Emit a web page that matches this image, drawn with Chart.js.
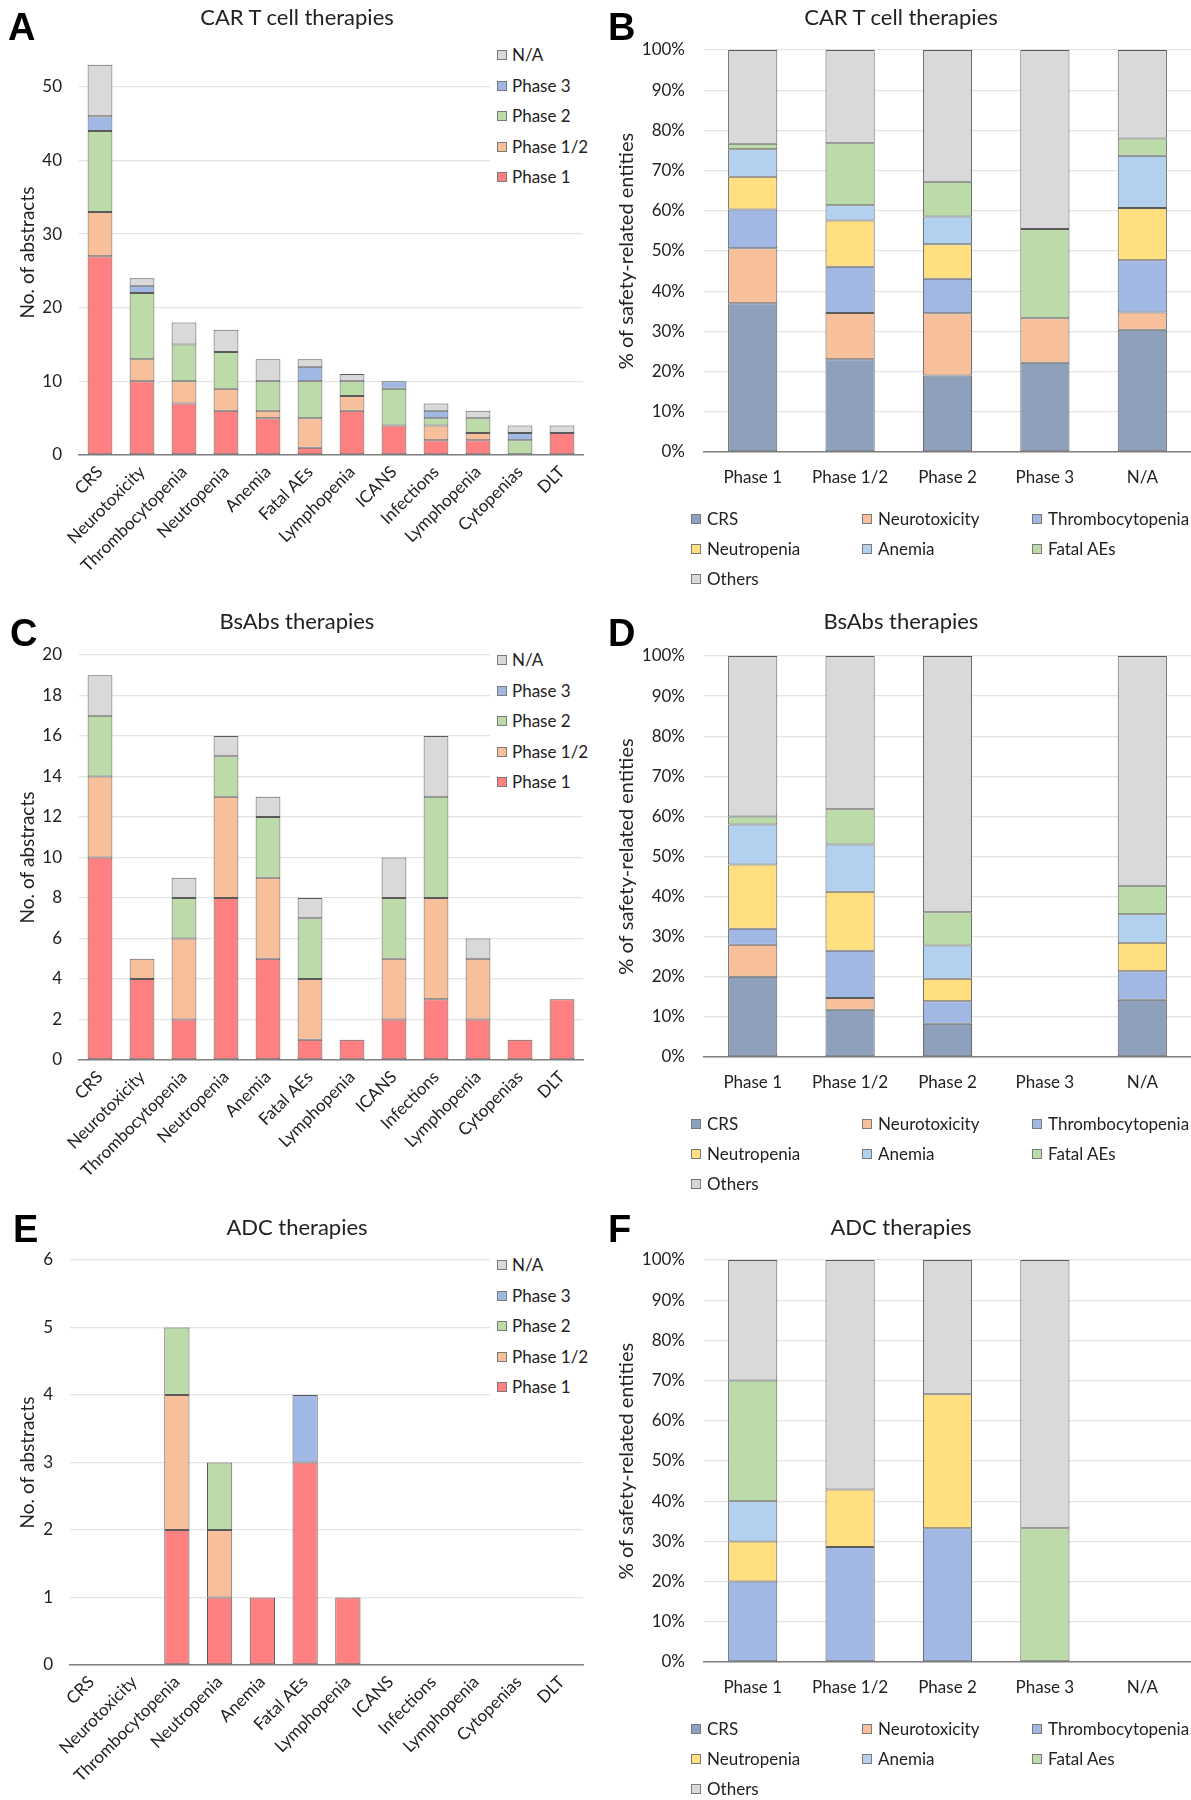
<!DOCTYPE html>
<html><head><meta charset="utf-8">
<script src="https://cdn.jsdelivr.net/npm/chart.js@4"></script>
<style>
html,body{margin:0;padding:0;background:#fff}
body{width:1191px;height:1800px;position:relative;overflow:hidden;font-family:Lato,"Open Sans",sans-serif;color:#222}
canvas{position:absolute}
.letter{position:absolute;font-family:"Liberation Sans",Arial,sans-serif;font-weight:bold;font-size:38px;line-height:38px;color:#000}
.ttl{position:absolute;font-size:22px;line-height:22px;white-space:nowrap;transform:translateX(-50%);color:#222}
.box{position:absolute;background:#fff}
.li{position:absolute;font-size:17px;line-height:17px;white-space:nowrap;color:#222}
.sw{position:absolute;width:8px;height:8px;border:1px solid #7a7a7a;box-sizing:content-box}
</style></head><body>
<script>
// ---------- DATA ----------
const categories = ["CRS","Neurotoxicity","Thrombocytopenia","Neutropenia","Anemia","Fatal AEs","Lymphopenia","ICANS","Infections","Lymphopenia","Cytopenias","DLT"];
const phaseNames = ["Phase 1","Phase 1/2","Phase 2","Phase 3","N/A"];

// A: CAR T cell therapies (No. of abstracts)
const carPhase1  = [27,10,7,6,5,1,6,4,2,2,0,3];
const carPhase12 = [6,3,3,3,1,4,2,0,2,1,0,0];
const carPhase2  = [11,9,5,5,4,5,2,5,1,2,2,0];
const carPhase3  = [2,1,0,0,0,2,0,1,1,0,1,0];
const carNA      = [7,1,3,3,3,1,1,0,1,1,1,1];

// C: BsAbs therapies
const bsPhase1  = [10,4,2,8,5,1,1,2,3,2,1,3];
const bsPhase12 = [4,1,4,5,4,3,0,3,5,3,0,0];
const bsPhase2  = [3,0,2,2,3,3,0,3,5,0,0,0];
const bsPhase3  = [0,0,0,0,0,0,0,0,0,0,0,0];
const bsNA      = [2,0,1,1,1,1,0,2,3,1,0,0];

// E: ADC therapies
const adcPhase1  = [0,0,2,1,1,3,1,0,0,0,0,0];
const adcPhase12 = [0,0,2,1,0,0,0,0,0,0,0,0];
const adcPhase2  = [0,0,1,1,0,0,0,0,0,0,0,0];
const adcPhase3  = [0,0,0,0,0,1,0,0,0,0,0,0];
const adcNA      = [0,0,0,0,0,0,0,0,0,0,0,0];

// B/D/F: % of safety-related entities
const phaseCategories = ["Phase 1","Phase 1/2","Phase 2","Phase 3","N/A"];
const entityNames = ["CRS","Neurotoxicity","Thrombocytopenia","Neutropenia","Anemia","Fatal AEs","Others"];
const entityNamesF = ["CRS","Neurotoxicity","Thrombocytopenia","Neutropenia","Anemia","Fatal Aes","Others"];

const carPctCRS    = [37.0,23.1,19.0,22.2,30.4];
const carPctNeuro  = [13.7,11.5,15.5,11.1,4.3];
const carPctThromb = [9.6,11.5,8.6,0,13.0];
const carPctNeutro = [8.2,11.5,8.6,0,13.0];
const carPctAnemia = [6.8,3.8,6.9,0,13.0];
const carPctFatal  = [1.4,15.4,8.6,22.2,4.3];
const carPctOthers = [23.3,23.2,32.8,44.5,22.0];

const bsPctCRS    = [20,11.8,8.3,0,14.3];
const bsPctNeuro  = [8,2.9,0,0,0];
const bsPctThromb = [4,11.8,5.6,0,7.1];
const bsPctNeutro = [16,14.7,5.6,0,7.1];
const bsPctAnemia = [10,11.8,8.3,0,7.1];
const bsPctFatal  = [2,8.8,8.3,0,7.1];
const bsPctOthers = [40,38.2,63.9,0,57.3];

const adcPctCRS    = [0,0,0,0,0];
const adcPctNeuro  = [0,0,0,0,0];
const adcPctThromb = [20,28.6,33.3,0,0];
const adcPctNeutro = [10,14.3,33.3,0,0];
const adcPctAnemia = [10,0,0,0,0];
const adcPctFatal  = [30,0,0,33.3,0];
const adcPctOthers = [30,57.1,33.4,66.7,0];

// ---------- STYLE ----------
const phaseColors = ["#ff8080","#f8c09a","#bcdba8","#a1b8e4","#d9d9d9"];
const entityColors = ["#8fa0bc","#f8c09a","#a1b8e4","#ffdf80","#b2d1ee","#bcdba8","#d9d9d9"];
const FONT = "Lato";
const TXT = "#222";

function el(cls, css, text){
  const d=document.createElement('div'); d.className=cls;
  Object.assign(d.style, css); if(text!==undefined) d.textContent=text;
  document.body.appendChild(d); return d;
}

function makeChart(opts){
  const c=document.createElement('canvas');
  c.width=opts.cw; c.height=opts.ch;
  c.style.left=opts.cx+'px'; c.style.top=opts.cy+'px';
  c.style.width=opts.cw+'px'; c.style.height=opts.ch+'px';
  document.body.appendChild(c);
  const yW = opts.area.l-opts.cx, xH = opts.cy+opts.ch-opts.area.b;
  const padTop = opts.area.t-opts.cy, padRight = opts.cx+opts.cw-opts.area.r;
  const datasets = opts.series.map((s,i)=>({
    label:opts.names[i], data:s.map(v=>v===0?null:v), backgroundColor:opts.colors[i],
    borderColor:"#5a5a5a", borderWidth:1, borderSkipped:false,
    barPercentage:opts.barPct, categoryPercentage:1
  }));
  return new Chart(c,{
    type:'bar',
    data:{labels:opts.labels, datasets},
    options:{
      responsive:false, animation:false, devicePixelRatio:1,
      layout:{padding:{top:padTop,right:padRight,left:0,bottom:0}},
      plugins:{legend:{display:false},title:{display:false},tooltip:{enabled:false}},
      scales:{
        x:{stacked:true, grid:{display:false, drawTicks:false},
           border:{display:true,color:"#808080",width:1.5},
           ticks:{color:TXT,font:{family:FONT,size:17},padding:opts.xPad,
                  minRotation:opts.rot,maxRotation:opts.rot,autoSkip:false},
           afterFit:(s)=>{s.height=xH;}},
        y:{stacked:true, min:0, max:opts.max,
           grid:{color:"#e4e4e4",lineWidth:1.3,drawTicks:false},
           border:{display:false},
           ticks:{color:TXT,font:{family:FONT,size:17},padding:opts.yPad,
                  stepSize:opts.step, includeBounds:false,
                  callback:opts.pct?(v=>v+'%'):(v=>v)},
           title:{display:true,text:opts.yTitle,color:TXT,font:{family:FONT,size:opts.yTitleSize},
                  padding:{top:opts.yTitlePad,bottom:0}},
           afterFit:(s)=>{s.width=yW;}}
      }
    }
  });
}

function countPanel(p){
  makeChart({cx:p.cx,cy:p.cy,cw:596,ch:600,area:p.area,labels:categories,
    names:phaseNames,colors:phaseColors,series:p.series,barPct:0.59,
    max:p.max,step:p.step,xPad:7,rot:45,yPad:17,yTitle:"No. of abstracts",yTitleSize:19,yTitlePad:16,pct:false});
  // legend (reverse order) with white background overlapping plot
  el('box',{left:'490px',top:(p.legTop-15)+'px',width:'101px',height:'158px'});
  const order=[4,3,2,1,0];
  order.forEach((k,j)=>{
    const yc=p.legTop+j*30.5;
    el('sw',{left:'497px',top:(yc-5)+'px',background:phaseColors[k]});
    el('li',{left:'512px',top:(yc-9)+'px'},phaseNames[k]);
  });
}
function pctPanel(p){
  makeChart({cx:596,cy:p.cy,cw:595,ch:600,area:p.area,labels:phaseCategories,
    names:p.names,colors:entityColors,series:p.series,barPct:0.505,
    max:100,step:10,xPad:15,rot:0,yPad:19,yTitle:"% of safety-related entities",yTitleSize:20,yTitlePad:19,pct:true});
  const cols=[691,862,1032];
  p.names.forEach((n,i)=>{
    const col=i%3,row=Math.floor(i/3);
    const yc=p.legTop+row*30;
    el('sw',{left:cols[col]+'px',top:(yc-5)+'px',background:entityColors[i]});
    el('li',{left:(cols[col]+16)+'px',top:(yc-9)+'px'},n);
  });
}

countPanel({cx:0,cy:0,area:{l:79,t:50,r:583,b:455},max:55,step:10,legTop:55,
  series:[carPhase1,carPhase12,carPhase2,carPhase3,carNA]});
countPanel({cx:0,cy:600,area:{l:79,t:655,r:583,b:1060},max:20,step:2,legTop:660,
  series:[bsPhase1,bsPhase12,bsPhase2,bsPhase3,bsNA]});
countPanel({cx:0,cy:1200,area:{l:70,t:1260,r:583,b:1665},max:6,step:1,legTop:1265,
  series:[adcPhase1,adcPhase12,adcPhase2,adcPhase3,adcNA]});

pctPanel({cy:0,area:{l:704,t:50,r:1191,b:452},legTop:519,names:entityNames,
  series:[carPctCRS,carPctNeuro,carPctThromb,carPctNeutro,carPctAnemia,carPctFatal,carPctOthers]});
pctPanel({cy:600,area:{l:704,t:656,r:1191,b:1057},legTop:1124,names:entityNames,
  series:[bsPctCRS,bsPctNeuro,bsPctThromb,bsPctNeutro,bsPctAnemia,bsPctFatal,bsPctOthers]});
pctPanel({cy:1200,area:{l:704,t:1260,r:1191,b:1662},legTop:1729,names:entityNamesF,
  series:[adcPctCRS,adcPctNeuro,adcPctThromb,adcPctNeutro,adcPctAnemia,adcPctFatal,adcPctOthers]});

// panel letters and titles
[["A",8,8],["B",608,8],["C",10,614],["D",608,614],["E",13,1210],["F",608,1210]]
  .forEach(([t,x,y])=>el('letter',{left:x+'px',top:y+'px'},t));
[["CAR T cell therapies",297,6],["CAR T cell therapies",901,6],
 ["BsAbs therapies",297,610],["BsAbs therapies",901,610],
 ["ADC therapies",297,1216],["ADC therapies",901,1216]]
  .forEach(([t,x,y])=>el('ttl',{left:x+'px',top:y+'px'},t));
</script>
</body></html>
